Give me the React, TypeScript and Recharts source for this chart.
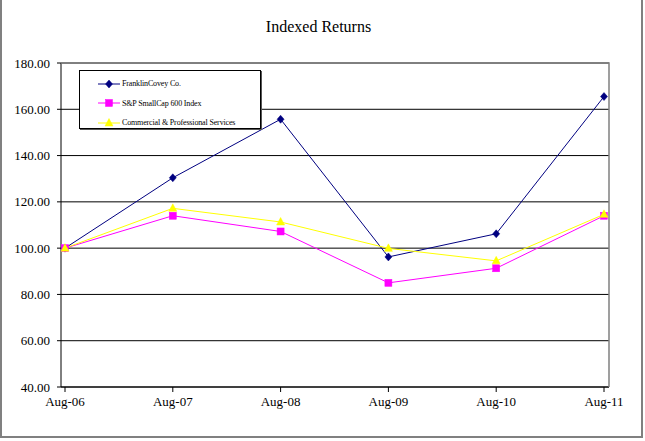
import React from "react";
import { LineChart, Line, XAxis, YAxis, CartesianGrid, Legend } from "recharts";

const categories = ["Aug-06", "Aug-07", "Aug-08", "Aug-09", "Aug-10", "Aug-11"];
const franklinCovey = [100, 130.4, 155.7, 96.2, 106.2, 165.5];
const smallCap600 = [100, 114.0, 107.2, 85.0, 91.3, 114.0];
const commercialServices = [100, 117.2, 111.3, 99.9, 94.5, 114.6];
const yTicks = [40, 60, 80, 100, 120, 140, 160, 180];

const FONT = '"Liberation Serif", "DejaVu Serif", serif';

const CHART_W = 645;
const CHART_H = 441;
const MARGIN = { top: 63, right: 36, bottom: 0, left: 0 };
const Y_AXIS_W = 61;
const X_AXIS_H = 54;
const PLOT_RIGHT = CHART_W - MARGIN.right;
const PLOT_BOTTOM = CHART_H - X_AXIS_H;

const SERIES = [
    { key: "franklin", name: "FranklinCovey Co.", color: "#000080", shape: "diamond" },
    { key: "smallcap", name: "S&P SmallCap 600 Index", color: "#FF00FF", shape: "square" },
    { key: "commercial", name: "Commercial & Professional Services", color: "#FFFF00", shape: "triangle" },
];

const data = categories.map((month, i) => ({
    month,
    franklin: franklinCovey[i],
    smallcap: smallCap600[i],
    commercial: commercialServices[i],
}));

// little marker glyphs, shared by the lines and the legend
function Marker({ shape, color, cx, cy }: { shape: string; color: string; cx: number; cy: number }) {
    if (shape === "diamond") {
        return (
            <polygon
                points={`${cx},${cy - 4} ${cx + 3.5},${cy} ${cx},${cy + 4} ${cx - 3.5},${cy}`}
                fill={color}
                stroke={color}
                strokeWidth={0.5}
            />
        );
    }
    if (shape === "square") {
        return <rect x={cx - 3.5} y={cy - 3.5} width={7} height={7} fill={color} stroke={color} strokeWidth={0.5} />;
    }
    return (
        <polygon
            points={`${cx},${cy - 4.5} ${cx + 4},${cy + 3} ${cx - 4},${cy + 3}`}
            fill={color}
            stroke={color}
            strokeWidth={0.5}
        />
    );
}

const renderDot = (shape: string, color: string) => (props: any) => {
    const { cx, cy, index } = props;
    if (cx == null || cy == null) return <g key={`${shape}-${index}`} />;
    return (
        <g key={`${shape}-${index}`}>
            <Marker shape={shape} color={color} cx={cx} cy={cy} />
        </g>
    );
};

const LegendBox = () => (
    <div
        style={{
            border: "1px solid #000",
            boxShadow: "1px 1px 0 #555",
            background: "#fff",
            width: 182,
            height: 59,
            boxSizing: "border-box",
            paddingTop: 3,
        }}
    >
        {SERIES.map((s) => (
            <div key={s.key} style={{ display: "flex", alignItems: "center", height: 19.5 }}>
                <svg width={24} height={10} style={{ marginLeft: 18, flexShrink: 0 }}>
                    <line x1={0} y1={5} x2={22} y2={5} stroke={s.color} strokeWidth={1} />
                    <Marker shape={s.shape} color={s.color} cx={11} cy={5} />
                </svg>
                <span
                    style={{
                        fontFamily: FONT,
                        fontSize: 8,
                        letterSpacing: -0.15,
                        color: "#000",
                        whiteSpace: "nowrap",
                    }}
                >
                    {s.name}
                </span>
            </div>
        ))}
    </div>
);

export default function App() {
    return (
        <div style={{ position: "absolute", left: 0, top: 0, width: CHART_W, height: CHART_H, background: "#fff" }}>
            {/* outer chart frame (no top edge, like the original) */}
            <div
                style={{
                    position: "absolute",
                    left: 0,
                    top: 0,
                    width: 639,
                    height: 436,
                    borderLeft: "2px solid #808080",
                    borderRight: "2px solid #808080",
                    borderBottom: "2px solid #808080",
                }}
            />
            <div
                style={{
                    position: "absolute",
                    left: 0,
                    top: 18,
                    width: 637,
                    textAlign: "center",
                    fontFamily: FONT,
                    fontSize: 16,
                    color: "#000",
                }}
            >
                Indexed Returns
            </div>
            <LineChart
                width={CHART_W}
                height={CHART_H}
                data={data}
                margin={MARGIN}
                style={{ position: "absolute", left: 0, top: 0 }}
            >
                <CartesianGrid horizontal vertical={false} stroke="#000" strokeWidth={1} />
                <XAxis
                    dataKey="month"
                    height={X_AXIS_H}
                    padding={{ left: 4, right: 5 }}
                    axisLine={{ stroke: "#000" }}
                    tickLine={{ stroke: "#000" }}
                    tickSize={5}
                    tickMargin={5}
                    interval={0}
                    tick={{ fill: "#000", fontFamily: FONT, fontSize: 13 }}
                />
                <YAxis
                    width={Y_AXIS_W}
                    domain={[40, 180]}
                    ticks={yTicks}
                    tickFormatter={(v: number) => v.toFixed(2)}
                    axisLine={{ stroke: "#000" }}
                    tickLine={{ stroke: "#000" }}
                    tickSize={4}
                    tickMargin={7}
                    tick={{ fill: "#000", fontFamily: FONT, fontSize: 13 }}
                />
                <Legend
                    layout="horizontal"
                    verticalAlign="middle"
                    align="center"
                    wrapperStyle={{ left: 79, top: 70, width: 184, height: 61 }}
                    content={() => <LegendBox />}
                />
                {SERIES.map((s) => (
                    <Line
                        key={s.key}
                        type="linear"
                        dataKey={s.key}
                        name={s.name}
                        stroke={s.color}
                        strokeWidth={1}
                        dot={renderDot(s.shape, s.color)}
                        activeDot={false}
                        isAnimationActive={false}
                    />
                ))}
            </LineChart>
            {/* grey plot-area frame (top and right edges), drawn over the chart */}
            <svg
                width={CHART_W}
                height={CHART_H}
                style={{ position: "absolute", left: 0, top: 0, pointerEvents: "none" }}
            >
                <polyline
                    points={`${Y_AXIS_W},${MARGIN.top} ${PLOT_RIGHT},${MARGIN.top} ${PLOT_RIGHT},${PLOT_BOTTOM}`}
                    fill="none"
                    stroke="#808080"
                    strokeWidth={1.5}
                />
            </svg>
        </div>
    );
}
